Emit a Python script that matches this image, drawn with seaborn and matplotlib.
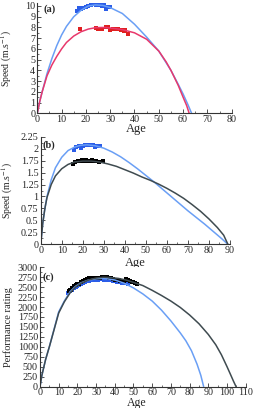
import matplotlib
matplotlib.use("Agg")
import matplotlib.pyplot as plt
import seaborn as sns
from matplotlib.ticker import MultipleLocator

# ---------------------------------------------------------------------------
# data
# ---------------------------------------------------------------------------
# (a) fitted curves
a_blue_age = [0, 1, 2, 4, 6, 8, 10, 12, 15, 18, 21, 24, 27, 30, 35, 40, 45, 50, 55, 58, 60, 62, 63.5]
a_blue_fit = [0, 1.1, 2.0, 3.7, 5.1, 6.3, 7.3, 8.1, 9.0, 9.6, 10.0, 10.1, 10.05, 9.85, 9.3, 8.3, 7.1,
              5.8, 4.0, 2.7, 1.8, 0.8, 0]
a_red_age = [0, 1, 2, 4, 6, 8, 10, 12, 15, 18, 21, 24, 27, 30, 35, 40, 45, 50, 53, 55, 58, 60, 61.5, 62.5]
a_red_fit = [0, 1.1, 2.0, 3.5, 4.5, 5.3, 6.0, 6.6, 7.2, 7.6, 7.85, 7.98, 8.0, 7.95, 7.8, 7.5, 6.9, 5.8,
             4.8, 4.0, 2.6, 1.5, 0.7, 0]
# (a) records
a_blue_pts_age = [16.5, 17.3, 18.0, 19.0, 20.2, 21.0, 22.0, 23.0, 24.0, 25.0, 26.0, 26.8, 27.5, 28.2, 29.0, 30.0]
a_blue_pts = [9.5, 9.8, 9.75, 9.8, 9.95, 10.0, 10.1, 10.15, 10.1, 10.1, 10.05, 10.0, 10.1, 9.75, 9.95, 9.9]
a_red_pts_age = [17.6, 24.3, 25.0, 25.8, 26.5, 28.4, 29.2, 30.0, 31.0, 32.2, 33.2, 34.5, 35.5, 36.2, 37.3]
a_red_pts = [7.85, 7.95, 7.9, 7.85, 7.9, 8.0, 8.0, 7.8, 7.85, 7.9, 7.85, 7.75, 7.7, 7.75, 7.35]

# (b) fitted curves
b_blue_age = [0, 1, 2, 3, 5, 7, 10, 13, 16, 19, 22, 26, 30, 34, 38, 42, 46, 50, 54, 58, 62, 66, 70, 74,
              78, 82, 86, 89]
b_blue_fit = [0, 0.45, 0.75, 1.0, 1.35, 1.6, 1.82, 1.96, 2.03, 2.07, 2.08, 2.06, 2.01, 1.93, 1.83, 1.71,
              1.58, 1.44, 1.3, 1.15, 1.0, 0.85, 0.7, 0.56, 0.42, 0.27, 0.12, 0]
b_black_age = [0, 1, 2, 3, 5, 7, 10, 13, 16, 20, 24, 28, 32, 36, 40, 44, 48, 52, 56, 60, 64, 68, 72, 76,
               80, 84, 87, 89]
b_black_fit = [0, 0.45, 0.75, 0.98, 1.25, 1.43, 1.58, 1.67, 1.72, 1.74, 1.74, 1.72, 1.68, 1.63, 1.56,
               1.49, 1.41, 1.34, 1.26, 1.17, 1.07, 0.96, 0.83, 0.69, 0.53, 0.35, 0.19, 0]
# (b) records
b_blue_pts_age = [16.0, 17.0, 18.0, 19.0, 20.0, 21.0, 22.0, 23.0, 24.0, 25.0, 26.0, 27.0, 28.0]
b_blue_pts = [1.97, 2.04, 2.05, 2.02, 2.06, 2.08, 2.07, 2.08, 2.07, 2.08, 2.03, 2.05, 2.05]
b_black_pts_age = [15.5, 16.5, 17.5, 18.5, 19.5, 20.5, 21.5, 22.5, 23.5, 24.5, 25.5, 26.5, 27.5, 29.5]
b_black_pts = [1.68, 1.72, 1.75, 1.74, 1.76, 1.75, 1.77, 1.75, 1.74, 1.76, 1.74, 1.75, 1.73, 1.74]

# (c) fitted curves
c_blue_age = [0, 1, 2, 3, 5, 7, 10, 13, 16, 19, 22, 26, 30, 33, 36, 40, 45, 50, 55, 60, 65, 70, 75, 78,
              81, 84, 86, 87.5]
c_blue_fit = [0, 280, 480, 680, 1000, 1350, 1880, 2150, 2380, 2520, 2610, 2680, 2710, 2720, 2710, 2680,
              2600, 2480, 2330, 2150, 1920, 1650, 1350, 1150, 900, 560, 280, 0]
c_black_age = [0, 1, 2, 3, 5, 7, 10, 13, 16, 19, 22, 26, 30, 34, 38, 42, 46, 50, 55, 60, 65, 70, 75, 80,
               85, 90, 94, 97, 100, 102, 103.5, 104.8]
c_black_fit = [0, 280, 480, 680, 1000, 1340, 1850, 2130, 2350, 2500, 2600, 2680, 2730, 2750, 2740, 2720,
               2680, 2620, 2540, 2420, 2290, 2150, 1990, 1800, 1580, 1310, 1050, 800, 500, 290, 130, 0]
# (c) records
c_blue_pts_age = list(range(15, 48))
c_blue_pts = [2360, 2400, 2440, 2480, 2500, 2540, 2560, 2590, 2610, 2630, 2650, 2660, 2670, 2670, 2680,
              2690, 2690, 2700, 2700, 2690, 2700, 2680, 2670, 2670, 2660, 2650, 2640, 2640, 2620, 2610,
              2600, 2600, 2580]
c_black_pts_age = [15.5, 16, 16.5, 17, 18, 19, 20, 21, 22, 23, 24, 25, 26, 27, 28, 29, 30, 31, 32, 33, 34,
                   35, 36, 37, 38, 39, 40, 41, 42, 43, 44, 45, 46, 47, 48, 49, 50, 51, 52]
c_black_pts = [2400, 2430, 2420, 2480, 2530, 2550, 2570, 2590, 2620, 2650, 2680, 2700, 2720, 2720, 2730,
               2740, 2730, 2740, 2740, 2750, 2750, 2760, 2750, 2740, 2720, 2710, 2690, 2680, 2670, 2660,
               2650, 2660, 2700, 2690, 2660, 2640, 2620, 2600, 2590]

# tick labels
a_xticks = [0, 10, 20, 30, 40, 50, 60, 70, 80]
a_yticks = [0, 1, 2, 3, 4, 5, 6, 7, 8, 9, 10]
b_xticks = [0, 10, 20, 30, 40, 50, 60, 70, 80, 90]
b_yticks = [0, 0.25, 0.5, 0.75, 1, 1.25, 1.5, 1.75, 2, 2.25]
b_ylabels = ["0", "0.25", "0.5", "0.75", "1", "1.25", "1.5", "1.75", "2", "2.25"]
c_xticks = [0, 10, 20, 30, 40, 50, 60, 70, 80, 90, 100, 110]
c_yticks = [0, 250, 500, 750, 1000, 1250, 1500, 1750, 2000, 2250, 2500, 2750, 3000]

# ---------------------------------------------------------------------------
# style
# ---------------------------------------------------------------------------
sns.set_style("ticks")
plt.rcParams["font.family"] = ["Liberation Serif", "DejaVu Serif"]
plt.rcParams["mathtext.fontset"] = "stix"

BLUE_LINE = "#6a9ff5"
BLUE_PTS = "#2b5de8"
RED_LINE = "#e8386c"
RED_PTS = "#e02020"
GREY_LINE = "#3f4b50"

W, H = 255, 408
fig = plt.figure(figsize=(W / 100, H / 100), dpi=100)


def px_axes(left, right, top, bottom):
    # pixel box -> figure fraction axes
    return fig.add_axes([left / W, 1 - bottom / H, (right - left) / W, (bottom - top) / H])


def style_axis(ax, xticks, yticks, xmin, ymin, ylabels=None):
    sns.despine(ax=ax)
    for sp in ["left", "bottom"]:
        ax.spines[sp].set_linewidth(0.8)
        ax.spines[sp].set_color("#333333")
    ax.set_xticks(xticks)
    ax.set_yticks(yticks)
    if ylabels is not None:
        ax.set_yticklabels(ylabels)
    ax.xaxis.set_minor_locator(MultipleLocator(xmin))
    ax.yaxis.set_minor_locator(MultipleLocator(ymin))
    ax.tick_params(which="major", direction="in", length=3, width=0.6, labelsize=7.3, pad=1.5,
                   color="#333333")
    ax.tick_params(axis="x", which="major", pad=1.0)
    ax.tick_params(which="minor", direction="in", length=1.6, width=0.5, color="#333333")


# (a)
ax = px_axes(37.3, 231.7, 3.3, 113.3)
sns.lineplot(x=a_blue_age, y=a_blue_fit, color=BLUE_LINE, lw=1.1, sort=False, estimator=None, ax=ax)
sns.lineplot(x=a_red_age, y=a_red_fit, color=RED_LINE, lw=1.1, sort=False, estimator=None, ax=ax)
sns.scatterplot(x=a_blue_pts_age, y=a_blue_pts, color=BLUE_PTS, marker="s", s=5, linewidth=0, ax=ax)
sns.scatterplot(x=a_red_pts_age, y=a_red_pts, color=RED_PTS, marker="s", s=5, linewidth=0, ax=ax)
ax.set_xlim(0, 80)
ax.set_ylim(0, 10.25)
style_axis(ax, a_xticks, a_yticks, 5, 0.5)
ax.set_xlabel("Age", fontsize=9)
ax.set_ylabel("Speed (m.s$^{-1}$)", fontsize=7)
ax.xaxis.set_label_coords(0.511, -0.088)
ax.yaxis.set_label_coords(-0.118, 0.5)
ax.text(0.03, 0.99, "(a)", transform=ax.transAxes, fontsize=7.5, fontweight="bold", va="top")

# (b)
ax = px_axes(40.7, 230, 136.7, 244.3)
sns.lineplot(x=b_blue_age, y=b_blue_fit, color=BLUE_LINE, lw=1.1, sort=False, estimator=None, ax=ax)
sns.lineplot(x=b_black_age, y=b_black_fit, color=GREY_LINE, lw=1.1, sort=False, estimator=None, ax=ax)
sns.scatterplot(x=b_blue_pts_age, y=b_blue_pts, color=BLUE_PTS, marker="s", s=5, linewidth=0, ax=ax)
sns.scatterplot(x=b_black_pts_age, y=b_black_pts, color="black", marker="s", s=5, linewidth=0, ax=ax)
ax.set_xlim(0, 90)
ax.set_ylim(0, 2.25)
style_axis(ax, b_xticks, b_yticks, 5, 0.125, b_ylabels)
ax.set_xlabel("Age", fontsize=9)
ax.set_ylabel("Speed (m.s$^{-1}$)", fontsize=7)
ax.xaxis.set_label_coords(0.498, -0.115)
ax.yaxis.set_label_coords(-0.136, 0.5)
ax.text(0.012, 0.97, "(b)", transform=ax.transAxes, fontsize=7.5, fontweight="bold", va="top")

# (c)
ax = px_axes(40, 245.7, 267.3, 386.5)
sns.lineplot(x=c_blue_age, y=c_blue_fit, color=BLUE_LINE, lw=1.1, sort=False, estimator=None, ax=ax)
sns.lineplot(x=c_black_age, y=c_black_fit, color=GREY_LINE, lw=1.1, sort=False, estimator=None, ax=ax)
sns.scatterplot(x=c_blue_pts_age, y=c_blue_pts, color=BLUE_PTS, marker="s", s=9, linewidth=0, ax=ax)
sns.scatterplot(x=c_black_pts_age, y=c_black_pts, color="black", marker="s", s=12, linewidth=0, ax=ax)
ax.set_xlim(0, 110)
ax.set_ylim(0, 3000)
style_axis(ax, c_xticks, c_yticks, 5, 125)
ax.set_xlabel("Age", fontsize=8.5)
ax.set_ylabel("Performance rating", fontsize=7.5)
ax.xaxis.set_label_coords(0.47, -0.088)
ax.yaxis.set_label_coords(-0.13, 0.5)
ax.text(0.013, 0.96, "(c)", transform=ax.transAxes, fontsize=7.5, fontweight="bold", va="top")

fig.savefig("out.png", dpi=100)
